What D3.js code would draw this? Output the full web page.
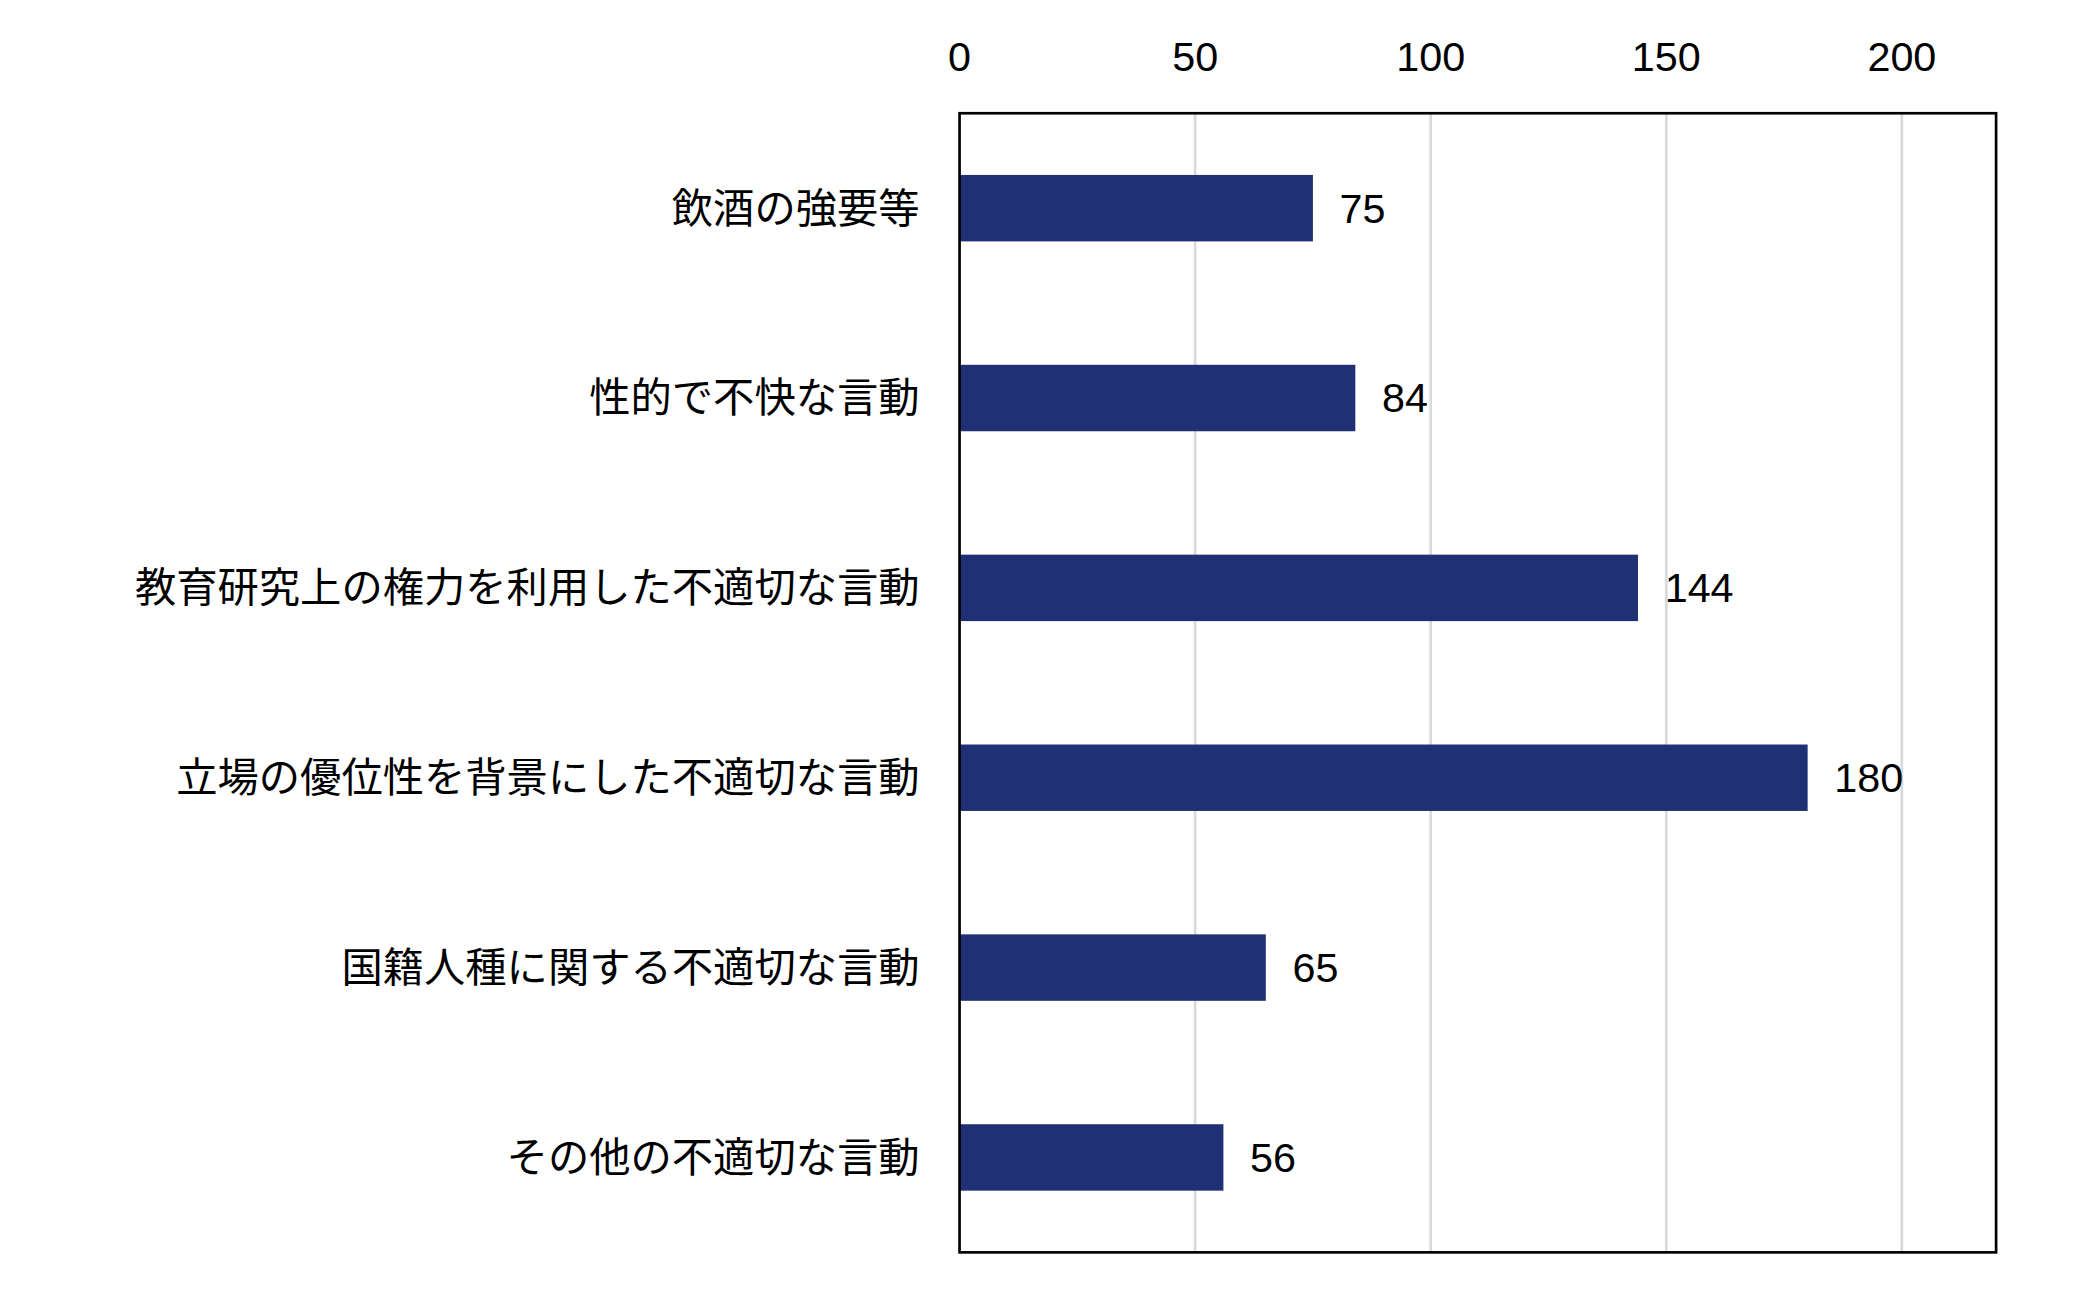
<!DOCTYPE html>
<html><head><meta charset="utf-8">
<script src="https://cdn.jsdelivr.net/npm/d3@7"></script>
<style>body{margin:0;background:#fff}text{font-family:"Liberation Sans","Noto Sans CJK JP",sans-serif}</style>
</head><body>
<script>
const categories = ["飲酒の強要等","性的で不快な言動","教育研究上の権力を利用した不適切な言動","立場の優位性を背景にした不適切な言動","国籍人種に関する不適切な言動","その他の不適切な言動"];
const values = [75, 84, 144, 180, 65, 56];
const ticks = [0, 50, 100, 150, 200];

const W = 1560, H = 975;
const m = {left: 720, right: 1498, top: 85, bottom: 940};
const svg = d3.select("body").append("svg")
  .attr("width", 2079).attr("height", 1299)
  .attr("viewBox", `0 0 ${W} ${H}`);

const x = d3.scaleLinear().domain([0, 220]).range([m.left, m.right]);
const y = d3.scaleBand().domain(categories).range([m.top, m.bottom]).paddingInner(0.65).paddingOuter(0.325);

// gridlines
svg.append("g").selectAll("line").data(ticks.slice(1)).enter().append("line")
  .attr("x1", d => x(d)).attr("x2", d => x(d)).attr("y1", m.top).attr("y2", m.bottom)
  .attr("stroke", "#d9d9d9").attr("stroke-width", 2);

// top axis labels
svg.append("g").selectAll("text").data(ticks).enter().append("text")
  .attr("x", d => x(d)).attr("y", 53).attr("text-anchor", "middle")
  .attr("font-size", 31).text(d => d);

svg.append("g").selectAll("rect").data(values).enter().append("rect")
  .attr("x", x(0)).attr("y", (d, i) => y(categories[i]))
  .attr("width", d => x(d) - x(0)).attr("height", y.bandwidth())
  .attr("fill", "#1f3174");

svg.append("g").selectAll("text").data(values).enter().append("text")
  .attr("x", d => x(d) + 20).attr("y", (d, i) => y(categories[i]) + y.bandwidth() / 2)
  .attr("dy", "0.35em").attr("font-size", 31).text(d => d);

svg.append("g").selectAll("text").data(categories).enter().append("text")
  .attr("x", 690).attr("y", d => y(d) + y.bandwidth() / 2)
  .attr("dy", "0.35em").attr("text-anchor", "end").attr("font-size", 31).text(d => d);

svg.append("rect").attr("x", m.left).attr("y", m.top).attr("width", m.right - m.left).attr("height", m.bottom - m.top)
  .attr("fill", "none").attr("stroke", "#000").attr("stroke-width", 2);
</script>
</body></html>
